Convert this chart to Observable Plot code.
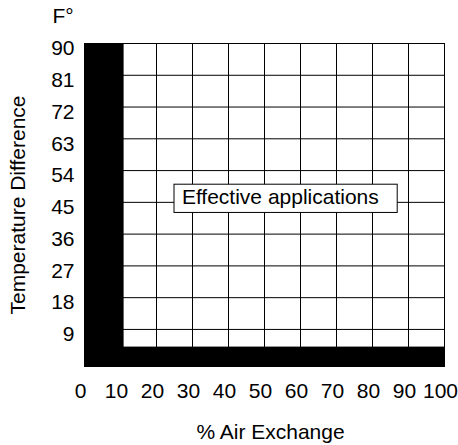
<!DOCTYPE html>
<html>
<head>
<meta charset="utf-8">
<script src="https://cdn.jsdelivr.net/npm/d3@7"></script>
<script src="https://cdn.jsdelivr.net/npm/@observablehq/plot@0.6"></script>
<style>
  html, body { margin: 0; padding: 0; background: #fff; }
</style>
</head>
<body>
<div id="chart"></div>
<script>
// Tick values
const xTicks = [0, 10, 20, 30, 40, 50, 60, 70, 80, 90, 100];
const yTicks = [9, 18, 27, 36, 45, 54, 63, 72, 81, 90];

// Ineffective (black) zones in data units
const zoneX1 = [0, 0];
const zoneX2 = [11, 100];
const zoneY1 = [-1.5, -1.5];
const zoneY2 = [90, 4];

// Annotation label and its box (data units)
const labelText = ["Effective applications"];
const labelX = [54.4];
const labelY = [46.4];
const boxX1 = [25];
const boxX2 = [87];
const boxY1 = [42];
const boxY2 = [50];

const zones = zoneX1.map((d, i) => ({x1: d, x2: zoneX2[i], y1: zoneY1[i], y2: zoneY2[i]}));
const labels = labelText.map((t, i) => ({t, x: labelX[i], y: labelY[i], x1: boxX1[i], x2: boxX2[i], y1: boxY1[i], y2: boxY2[i]}));

const FS = 21;

const chart = Plot.plot({
  width: 458,
  height: 445,
  marginLeft: 84,
  marginRight: 14,
  marginTop: 43,
  marginBottom: 79,
  style: {fontFamily: "'Liberation Sans', Arial, sans-serif", fontSize: FS + "px", background: "#fff", color: "#000"},
  x: {domain: [0, 100]},
  y: {domain: [-1.5, 90]},
  marks: [
    Plot.gridX(xTicks, {stroke: "#000", strokeOpacity: 1, strokeWidth: 1}),
    Plot.gridY(yTicks, {stroke: "#000", strokeOpacity: 1, strokeWidth: 1}),
    Plot.rect(zones, {x1: "x1", x2: "x2", y1: "y1", y2: "y2", fill: "#000"}),
    Plot.frame({stroke: "#000", strokeWidth: 1}),
    Plot.rect(labels, {x1: "x1", x2: "x2", y1: "y1", y2: "y2", fill: "#fff", stroke: "#000", strokeWidth: 1}),
    Plot.text(labels, {x: "x", y: "y", text: "t", fontSize: FS, lineAnchor: "middle", fill: "#000"}),
    Plot.axisX({ticks: xTicks, tickSize: 0, tickPadding: 17, dx: -4, label: null, fontSize: FS}),
    Plot.axisY({ticks: yTicks, tickSize: 0, tickPadding: 10, dy: 5, label: null, fontSize: FS}),
    Plot.text(["F°"], {frameAnchor: "top-left", dx: -32, dy: -27, textAnchor: "start", lineAnchor: "middle", fontSize: FS}),
    Plot.text(["% Air Exchange"], {frameAnchor: "bottom", dx: 6, dy: 66, textAnchor: "middle", lineAnchor: "middle", fontSize: FS}),
    Plot.text(["Temperature Difference"], {frameAnchor: "left", dx: -66, rotate: -90, textAnchor: "middle", lineAnchor: "middle", fontSize: FS})
  ]
});
document.getElementById("chart").appendChild(chart);
</script>
</body>
</html>
